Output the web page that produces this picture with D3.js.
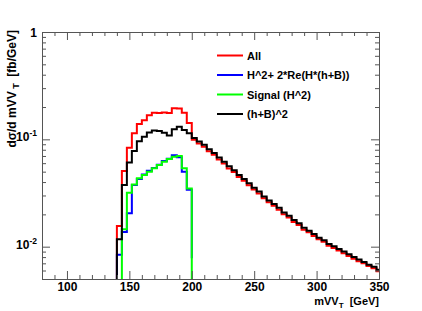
<!DOCTYPE html>
<html>
<head>
<meta charset="utf-8">
<script src="https://cdn.jsdelivr.net/npm/d3@7"></script>
<style>
  body { margin: 0; background: #fff; }
  text { font-family: "Liberation Sans", Arial, sans-serif; font-weight: bold; }
</style>
</head>
<body>
<div id="chart"></div>
<script>
// histogram bins: 4 GeV wide, first lower edge 140 GeV
const binStart = 140
const binWidth = 4

const allVals = [
  0.0156, 0.0507, 0.0835, 0.1137, 0.139, 0.151, 0.168, 0.177, 0.176, 0.178, 0.176, 0.1945, 0.194, 0.177, 0.142,
  0.099, 0.0915, 0.0855, 0.0775, 0.0718, 0.0648, 0.0597, 0.0536, 0.0496, 0.0447, 0.0412, 0.0374, 0.0341, 0.0313,
  0.0283, 0.0259, 0.0241, 0.0221, 0.0200, 0.0187, 0.0170, 0.0159, 0.0144, 0.0136, 0.0126, 0.0117, 0.0111, 0.0102,
  0.0097, 0.0092, 0.0087, 0.0082, 0.0077, 0.0073, 0.0070, 0.0066, 0.0063, 0.0059
]
const interfVals = [
  0.0084, 0.0137, 0.0205, 0.0375, 0.0427, 0.047, 0.051, 0.054, 0.058, 0.063, 0.066, 0.071, 0.068, 0.050, 0.034
]
const interfEnd = 0.0078
const signalStart = 144
const signalVals = [
  0.0145, 0.0318, 0.038, 0.0433, 0.0465, 0.0499, 0.0537, 0.0576, 0.0618, 0.0655, 0.0688, 0.0698, 0.0537, 0.0349
]
const bkgVals = [
  0.0117, 0.0375, 0.0608, 0.0778, 0.0958, 0.1057, 0.116, 0.1208, 0.1195, 0.1153, 0.1084, 0.1239, 0.131, 0.122, 0.1137,
  0.103, 0.0955, 0.089, 0.081, 0.0745, 0.0676, 0.0620, 0.0560, 0.0515, 0.0466, 0.0428, 0.0390, 0.0354, 0.0326,
  0.0294, 0.0270, 0.0250, 0.0230, 0.0208, 0.0194, 0.0177, 0.0165, 0.0150, 0.0141, 0.0131, 0.0121, 0.0115, 0.0106,
  0.0101, 0.0095, 0.0090, 0.0085, 0.0080, 0.0076, 0.0072, 0.0068, 0.0065, 0.0061
]

const legendLabels = ['All', 'H^2+ 2*Re(H*(h+B))', 'Signal (H^2)', '(h+B)^2']
const colors = ['#ff0000', '#0000ff', '#00ff00', '#000000']

const xMajor = [100, 150, 200, 250, 300, 350]
const yMajor = [1, 0.1, 0.01]
const yLabels = [['1', ''], ['10', '-1'], ['10', '-2']]

const W = 422, H = 311
const margin = {top: 32, right: 43, bottom: 32, left: 42}

const x = d3.scaleLinear().domain([80, 350]).range([margin.left, W - margin.right])
const y = d3.scaleLog().domain([0.005, 1]).range([H - margin.bottom, margin.top]).clamp(true)
const yMin = 0.005

const svg = d3.select('#chart').append('svg')
  .attr('width', W).attr('height', H)

svg.append('clipPath').attr('id', 'frame')
  .append('rect')
  .attr('x', margin.left).attr('y', margin.top)
  .attr('width', W - margin.left - margin.right)
  .attr('height', H - margin.top - margin.bottom)

// step outline for a histogram, rising from the axis floor
const histPoints = (start, vals, endVal) => {
  const pts = [[start, yMin]]
  vals.forEach((v, i) => pts.push([start + i * binWidth, v]))
  pts.push([start + vals.length * binWidth, endVal])
  return pts
}
const line = d3.line()
  .x(d => x(d[0]))
  .y(d => y(d[1]))
  .curve(d3.curveStepAfter)

const series = [
  histPoints(binStart, allVals, allVals[allVals.length - 1]),
  histPoints(binStart, interfVals, interfEnd),
  histPoints(signalStart, signalVals, yMin),
  histPoints(binStart, bkgVals, bkgVals[bkgVals.length - 1])
]

svg.append('g').attr('clip-path', 'url(#frame)')
  .selectAll('path')
  .data(series)
  .enter()
  .append('path')
  .attr('d', line)
  .attr('fill', 'none')
  .attr('stroke', (d, i) => colors[i])
  .attr('stroke-width', 2)

// axes: ROOT style, ticks inside on all four sides
const xMinor = d3.range(80, 351, 10).filter(v => !xMajor.includes(v))
const yMinor = []
;[0.001, 0.01, 0.1].forEach(dec => {
  for (let k = 2; k <= 9; k++) {
    const v = dec * k
    if (v >= yMin && v <= 1) yMinor.push(v)
  }
})

const axisColor = '#555'
const drawAxis = (axis, tx, ty) => {
  const g = svg.append('g').attr('transform', `translate(${tx},${ty})`).call(axis)
  g.select('.domain').attr('stroke', axisColor)
  g.selectAll('.tick line').attr('stroke', axisColor)
  return g
}

const xb = drawAxis(d3.axisBottom(x).tickValues(xMajor).tickSizeInner(-8).tickSizeOuter(0).tickPadding(3.5)
  .tickFormat(d3.format('d')), 0, H - margin.bottom)
xb.selectAll('text').attr('font-size', 12).attr('fill', '#000').attr('font-family', '"Liberation Sans", Arial, sans-serif')
drawAxis(d3.axisBottom(x).tickValues(xMinor).tickSizeInner(-4).tickSizeOuter(0).tickFormat(''), 0, H - margin.bottom)
drawAxis(d3.axisTop(x).tickValues(xMajor).tickSizeInner(-8).tickSizeOuter(0).tickFormat(''), 0, margin.top)
drawAxis(d3.axisTop(x).tickValues(xMinor).tickSizeInner(-4).tickSizeOuter(0).tickFormat(''), 0, margin.top)

const yl = drawAxis(d3.axisLeft(y).tickValues(yMajor).tickSizeInner(-8).tickSizeOuter(0).tickPadding(12)
  .tickFormat(''), margin.left, 0)
drawAxis(d3.axisLeft(y).tickValues(yMinor).tickSizeInner(-4).tickSizeOuter(0).tickFormat(''), margin.left, 0)
drawAxis(d3.axisRight(y).tickValues(yMajor).tickSizeInner(-8).tickSizeOuter(0).tickFormat(''), W - margin.right, 0)
drawAxis(d3.axisRight(y).tickValues(yMinor).tickSizeInner(-4).tickSizeOuter(0).tickFormat(''), W - margin.right, 0)

yl.selectAll('.tick').each(function (d, i) {
  const t = d3.select(this).select('text')
    .attr('x', -5).attr('dy', null).attr('y', i === 0 ? 4.5 : 1.5)
    .attr('font-size', 12).attr('fill', '#000')
    .attr('font-family', '"Liberation Sans", Arial, sans-serif')
  t.append('tspan').text(yLabels[i][0])
  if (yLabels[i][1]) {
    t.append('tspan').attr('dy', -5).attr('font-size', 8.5).text(yLabels[i][1])
  }
})

// axis titles
const xt = svg.append('text')
  .attr('x', W - margin.right).attr('y', 304.5)
  .attr('text-anchor', 'end').attr('font-size', 11)
  .attr('xml:space', 'preserve')
xt.append('tspan').text('mVV')
xt.append('tspan').attr('dy', 3).attr('font-size', 8).text('T')
xt.append('tspan').attr('dy', -3).text('  [GeV]')

const yt = svg.append('text')
  .attr('transform', `translate(16,${margin.top - 2}) rotate(-90)`)
  .attr('text-anchor', 'end').attr('font-size', 12)
  .attr('xml:space', 'preserve')
yt.append('tspan').text('d\u03c3/d mVV')
yt.append('tspan').attr('dy', 3).attr('font-size', 9).text(' T')
yt.append('tspan').attr('dy', -3).text('  [fb/GeV]')

// legend
const legend = svg.append('g')
  .selectAll('g')
  .data(legendLabels)
  .enter()
  .append('g')
  .attr('transform', (d, i) => `translate(217,${55.5 + i * 19.5})`)
legend.append('line')
  .attr('x1', 0).attr('x2', 26)
  .attr('stroke', (d, i) => colors[i]).attr('stroke-width', 2)
legend.append('text')
  .attr('x', 30).attr('y', 4)
  .attr('font-size', 11)
  .text(d => d)
</script>
</body>
</html>
